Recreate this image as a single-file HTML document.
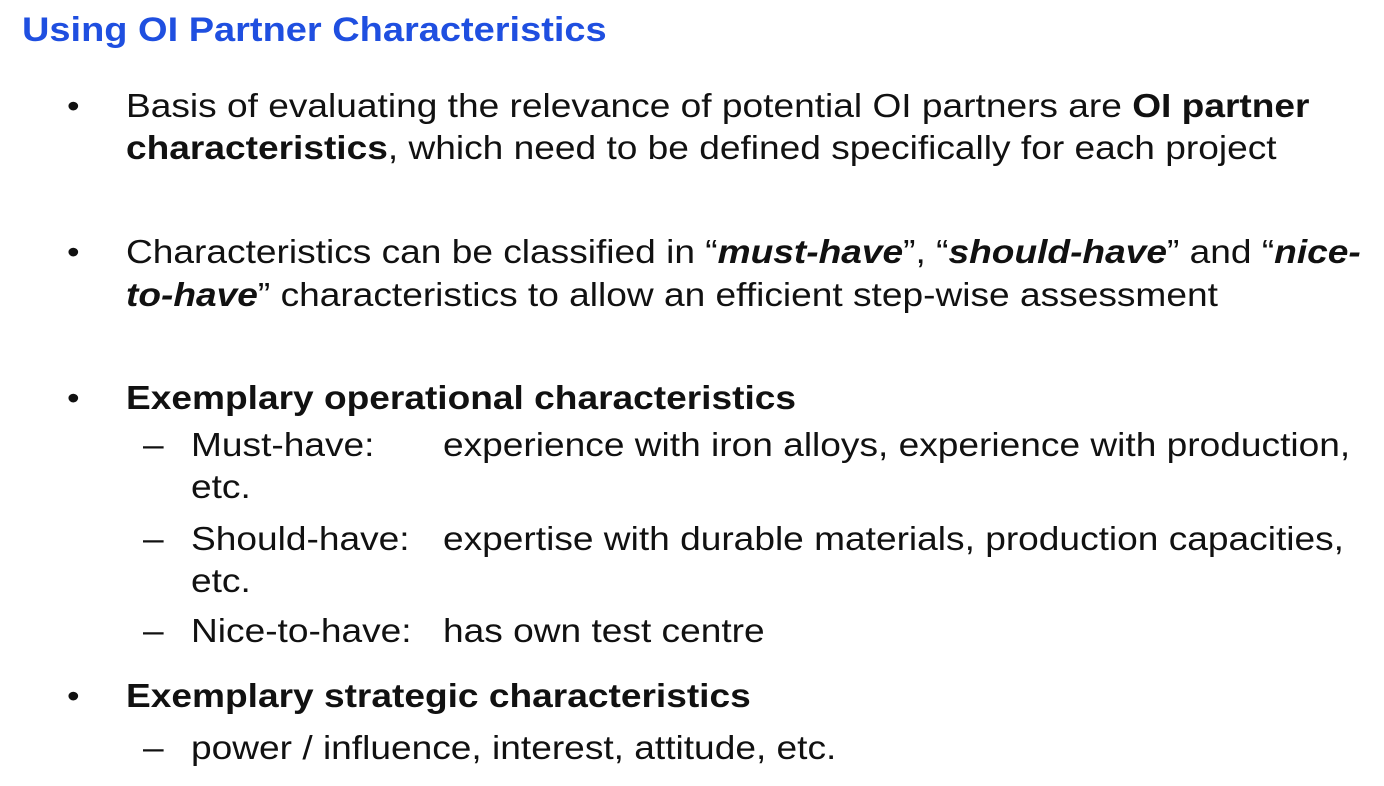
<!DOCTYPE html>
<html><head><meta charset="utf-8"><style>
body{margin:0;width:1384px;height:786px;background:#fff;overflow:hidden;position:relative;font-family:"Liberation Sans",Arial,sans-serif;color:#111}
.l{position:absolute;white-space:nowrap;font-size:33px;line-height:36px;transform:scaleX(1.124);transform-origin:0 50%}
.t{position:absolute;left:22px;top:11px;font-size:34px;font-weight:bold;color:#1f4fe0;white-space:nowrap;transform:scaleX(1.117);transform-origin:0 50%}
.b{position:absolute;left:67px;font-size:32px}
.d{position:absolute;left:143px}
</style></head><body>
<div class="t">Using OI Partner Characteristics</div>

<div class="l b" style="top:88px">•</div>
<div class="l" style="left:126px;top:88px">Basis of evaluating the relevance of potential OI partners are <b>OI partner</b></div>
<div class="l" style="left:126px;top:130px"><b>characteristics</b>, which need to be defined specifically for each project</div>

<div class="l b" style="top:234px">•</div>
<div class="l" style="left:126px;top:234px">Characteristics can be classified in “<b><i>must-have</i></b>”, “<b><i>should-have</i></b>” and “<b><i>nice-</i></b></div>
<div class="l" style="left:126px;top:277px"><b><i>to-have</i></b>” characteristics to allow an efficient step-wise assessment</div>

<div class="l b" style="top:380px">•</div>
<div class="l" style="left:126px;top:380px"><b>Exemplary operational characteristics</b></div>
<div class="l d" style="top:427px">–</div>
<div class="l" style="left:191px;top:427px">Must-have:</div>
<div class="l" style="left:443px;top:427px">experience with iron alloys, experience with production,</div>
<div class="l" style="left:191px;top:469px">etc.</div>
<div class="l d" style="top:521px">–</div>
<div class="l" style="left:191px;top:521px">Should-have:</div>
<div class="l" style="left:443px;top:521px">expertise with durable materials, production capacities,</div>
<div class="l" style="left:191px;top:563px">etc.</div>
<div class="l d" style="top:613px">–</div>
<div class="l" style="left:191px;top:613px">Nice-to-have:</div>
<div class="l" style="left:443px;top:613px">has own test centre</div>

<div class="l b" style="top:678px">•</div>
<div class="l" style="left:126px;top:678px"><b>Exemplary strategic characteristics</b></div>
<div class="l d" style="top:730px">–</div>
<div class="l" style="left:191px;top:730px">power / influence, interest, attitude, etc.</div>
</body></html>
